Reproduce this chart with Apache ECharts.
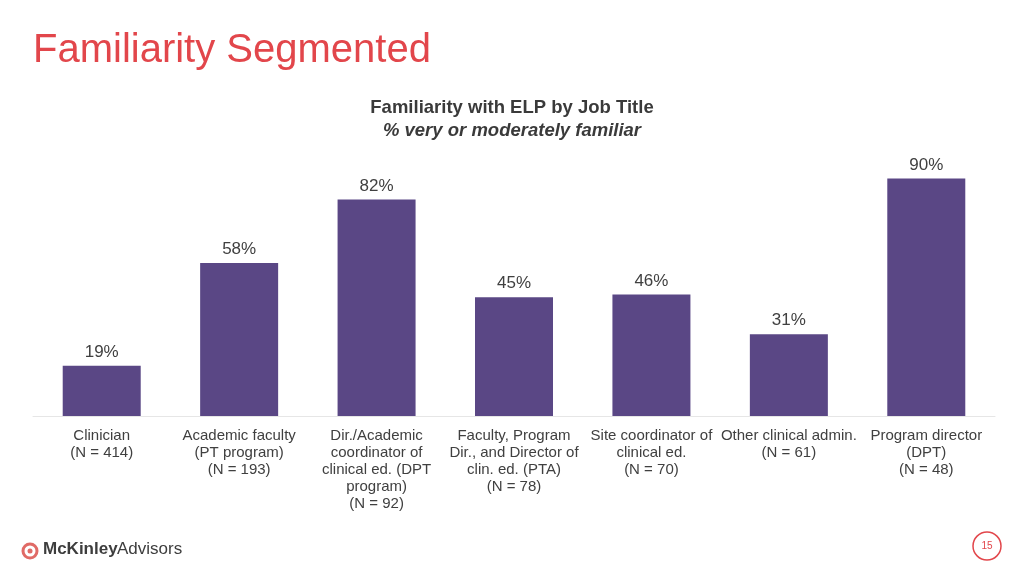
<!DOCTYPE html>
<html>
<head>
<meta charset="utf-8">
<script src="https://cdn.jsdelivr.net/npm/echarts@6/dist/echarts.min.js"></script>
<style>
html,body{margin:0;padding:0;background:#fff;}
#c{width:1024px;height:576px;}
</style>
</head>
<body>
<div id="c"></div>
<script>
const categories = [
  "Clinician\n(N = 414)",
  "Academic faculty\n(PT program)\n(N = 193)",
  "Dir./Academic\ncoordinator of\nclinical ed. (DPT\nprogram)\n(N = 92)",
  "Faculty, Program\nDir., and Director of\nclin. ed. (PTA)\n(N = 78)",
  "Site coordinator of\nclinical ed.\n(N = 70)",
  "Other clinical admin.\n(N = 61)",
  "Program director\n(DPT)\n(N = 48)"
];
const values = [19, 58, 82, 45, 46, 31, 90];

const chart = echarts.init(document.getElementById('c'));
const font = "'Liberation Sans', Arial, sans-serif";
chart.setOption({
  animation: false,
  textStyle: { fontFamily: font },
  title: [
    { text: 'Familiarity Segmented', left: 28, top: 26,
      textStyle: { color: '#e2464b', fontSize: 40, fontWeight: 'normal', fontFamily: font } },
    { text: 'Familiarity with ELP by Job Title', left: 'center', top: 93,
      textStyle: { color: '#3a3a3a', fontSize: 18.5, fontWeight: 'bold', fontFamily: font } },
    { text: '% very or moderately familiar', left: 'center', top: 116,
      textStyle: { color: '#3a3a3a', fontSize: 18.5, fontWeight: 'bold', fontStyle: 'italic', fontFamily: font } }
  ],
  grid: { left: 33, right: 29, top: 152, bottom: 160, containLabel: false },
  xAxis: {
    type: 'category', data: categories,
    axisLine: { show: true, lineStyle: { color: '#e6e6e6', width: 1 } },
    axisTick: { show: false },
    axisLabel: { interval: 0, color: '#404040', fontSize: 15, lineHeight: 17, margin: 11, fontFamily: font }
  },
  yAxis: { type: 'value', min: 0, max: 100, show: false, splitLine: { show: false } },
  series: [{
    type: 'bar', data: values, barWidth: 78,
    itemStyle: { color: '#5a4785' },
    label: { show: true, position: 'top', distance: 5, formatter: '{c}%', color: '#404040', fontSize: 17, fontFamily: font }
  }],
  graphic: [
    { type: 'text', left: 43, top: 541, style: { text: 'McKinley', fill: '#3d3d3d', font: "bold 17px 'Liberation Sans', Arial, sans-serif" } },
    { type: 'text', left: 117, top: 541, style: { text: 'Advisors', fill: '#3d3d3d', font: "17px 'Liberation Sans', Arial, sans-serif" } },
    { type: 'circle', shape: { cx: 30, cy: 551, r: 7 }, style: { fill: 'none', stroke: '#e06a66', lineWidth: 3 } },
    { type: 'circle', shape: { cx: 30, cy: 551, r: 2.5 }, style: { fill: '#e06a66' } },
    { type: 'circle', shape: { cx: 987, cy: 546, r: 14 }, style: { fill: '#fff', stroke: '#e2464b', lineWidth: 1.5 } },
    { type: 'text', x: 987, y: 546, style: { text: '15', fill: '#e2464b', font: "10px 'Liberation Sans', Arial, sans-serif", align: 'center', verticalAlign: 'middle' } }
  ]
});
</script>
</body>
</html>
